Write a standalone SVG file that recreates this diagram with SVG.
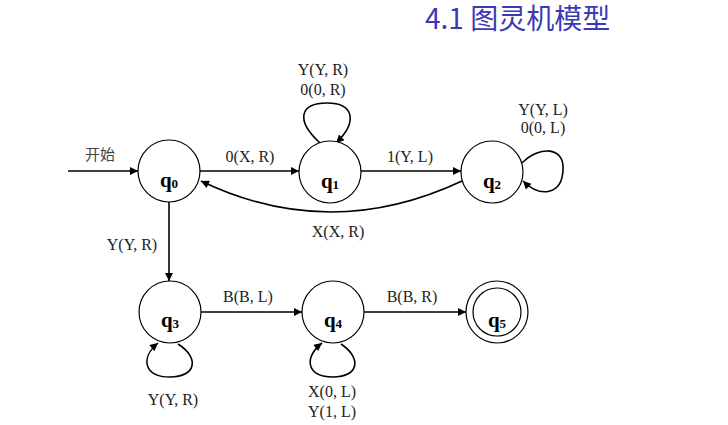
<svg xmlns="http://www.w3.org/2000/svg" width="728" height="425" viewBox="0 0 728 425">
<defs>
<marker id="arr" viewBox="0 0 10 10" refX="10" refY="5" markerWidth="10" markerHeight="8" markerUnits="userSpaceOnUse" orient="auto">
<path d="M0,0 L10,5 L0,10 z" fill="#000"/>
</marker>
<style>
.st{fill:#fff;stroke:#000;stroke-width:1.2}
.ed{fill:none;stroke:#000;stroke-width:1.6;marker-end:url(#arr)}
.lb{font-family:"Liberation Serif","Times New Roman",serif;font-size:16px;fill:#222;text-anchor:middle}
.nl{font-family:"Liberation Serif","Times New Roman",serif;font-size:21px;font-weight:bold;fill:#000;text-anchor:middle}
.sb{font-size:13px}
.ti{font-family:"Noto Sans CJK SC","Noto Sans",sans-serif;font-size:28px;fill:#3a3ab5}
</style>
</defs>
<rect width="728" height="425" fill="#fff"/>
<text class="ti" x="425" y="29">4.1 图灵机模型</text>
<g id="connectors">
<path class="ed" d="M68,171 L138,171"/>
<path class="ed" d="M200,171 L299,171"/>
<path class="ed" d="M361,171 L461,171"/>
<path class="ed" d="M462,181 Q330,243 201,181"/>
<path class="ed" d="M320,143 C295,120 300,103 327,103 C354,103 358,122 336,143"/>
<path class="ed" d="M522,163 C540,145 565,147 563,170 C562,195 540,198 523,181"/>
<path class="ed" d="M169,202 L169,281"/>
<path class="ed" d="M178,344 C200,358 196,377 170,377 C144,377 140,358 158,343"/>
<path class="ed" d="M201,312 L302,312"/>
<path class="ed" d="M341,344 C362,358 359,377 333,377 C307,377 303,358 322,343"/>
<path class="ed" d="M364,312 L466,312"/>
</g>
<g id="labels">
<text class="lb" x="100" y="160" style="font-family:'Noto Sans CJK SC',sans-serif;font-size:15px;fill:#444">开始</text>
<text class="lb" x="250" y="162">0(X, R)</text>
<text class="lb" x="410" y="162">1(Y, L)</text>
<text class="lb" x="323" y="75">Y(Y, R)</text>
<text class="lb" x="323" y="95">0(0, R)</text>
<text class="lb" x="543" y="115">Y(Y, L)</text>
<text class="lb" x="543" y="133">0(0, L)</text>
<text class="lb" x="338" y="237">X(X, R)</text>
<text class="lb" x="132" y="250">Y(Y, R)</text>
<text class="lb" x="248" y="302">B(B, L)</text>
<text class="lb" x="412" y="302">B(B, R)</text>
<text class="lb" x="173" y="405">Y(Y, R)</text>
<text class="lb" x="332" y="397">X(0, L)</text>
<text class="lb" x="332" y="417">Y(1, L)</text>
</g>
<g id="q0"><circle class="st" cx="169" cy="171" r="31"/><text class="nl" x="169" y="187">q<tspan class="sb" dy="1">0</tspan></text></g>
<g id="q1"><circle class="st" cx="330" cy="172" r="31"/><text class="nl" x="330" y="188">q<tspan class="sb" dy="1">1</tspan></text></g>
<g id="q2"><circle class="st" cx="492" cy="172" r="31"/><text class="nl" x="492" y="188">q<tspan class="sb" dy="1">2</tspan></text></g>
<g id="q3"><circle class="st" cx="170" cy="312" r="31"/><text class="nl" x="170" y="327">q<tspan class="sb" dy="1">3</tspan></text></g>
<g id="q4"><circle class="st" cx="333" cy="312" r="31"/><text class="nl" x="333" y="327">q<tspan class="sb" dy="1">4</tspan></text></g>
<g id="q5"><circle class="st" cx="497" cy="312" r="31"/><circle class="st" cx="497" cy="312" r="24"/><text class="nl" x="497" y="327">q<tspan class="sb" dy="1">5</tspan></text></g>
</svg>
